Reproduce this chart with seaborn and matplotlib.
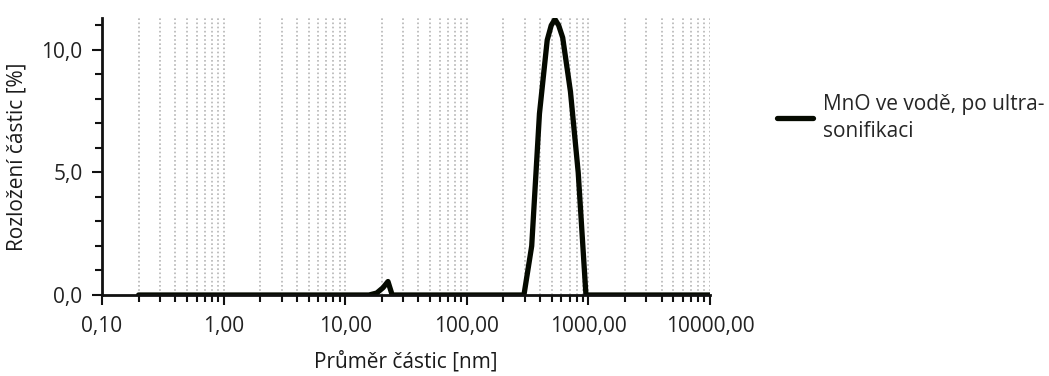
import matplotlib
matplotlib.use('Agg')
import matplotlib.pyplot as plt
from matplotlib.ticker import FixedLocator, LogLocator, NullFormatter
import seaborn as sns
import pandas as pd

# velikost částic [nm] a rozložení [%]
prumer_nm = [0.2, 15.69, 18.17, 20.5, 22.5, 24.36, 295.3, 342.0, 396.1,
             458.7, 495.0, 531.2, 570.0, 615.1, 712.4, 825.0, 955.4, 10000.0]
rozlozeni = [0.0, 0.0, 0.08, 0.3, 0.55, 0.0, 0.0, 2.0, 7.4,
             10.4, 11.0, 11.25, 11.0, 10.5, 8.3, 5.0, 0.0, 0.0]

x_ticks = [0.1, 1, 10, 100, 1000, 10000]
x_labels = ["0,10", "1,00", "10,00", "100,00", "1000,00", "10000,00"]
y_ticks = [0, 5, 10]
y_labels = ["0,0", "5,0", "10,0"]
serie = "MnO ve vodě, po ultra-\nsonifikaci"

df = pd.DataFrame({"Průměr": prumer_nm, "Rozložení": rozlozeni})

sns.set_style("ticks")
plt.rcParams['font.family'] = ['Open Sans', 'DejaVu Sans']

fig = plt.figure(figsize=(10.49, 3.76), dpi=100)
ax = fig.add_axes([0.0972, 0.2154, 0.5796, 0.7366])

sns.lineplot(data=df, x="Průměr", y="Rozložení", ax=ax, color="#050a00",
             linewidth=3.8, label=serie)
ax.lines[0].set_solid_joinstyle("round")

ax.set_xscale("log")
ax.set_xlim(0.1, 10000)
ax.set_ylim(0, 11.3)

ax.xaxis.set_major_locator(FixedLocator(x_ticks))
ax.set_xticklabels(x_labels)
ax.xaxis.set_minor_locator(LogLocator(base=10, subs=range(2, 10)))
ax.xaxis.set_minor_formatter(NullFormatter())
ax.yaxis.set_major_locator(FixedLocator(y_ticks))
ax.set_yticklabels(y_labels)
ax.yaxis.set_minor_locator(FixedLocator(range(0, 12)))

ax.grid(which="both", axis="x", color="#b5b5b5", linestyle=(0, (1, 1.5)), linewidth=1.2)
ax.set_axisbelow(True)

for s in ["top", "right"]:
    ax.spines[s].set_visible(False)
for s in ["left", "bottom"]:
    ax.spines[s].set_linewidth(2)
    ax.spines[s].set_color("#111111")

ax.tick_params(which="major", length=7, width=1.5, color="#111111",
               labelsize=15, labelcolor="#222222")
ax.tick_params(which="minor", length=5, width=1.5, color="#111111")
ax.tick_params(axis="x", which="major", pad=8)
ax.tick_params(axis="y", which="major", pad=7)

ax.set_xlabel("Průměr částic [nm]", fontsize=15, color="#1a1a1a", labelpad=10)
ax.set_ylabel("Rozložení částic [%]", fontsize=15, color="#1a1a1a", labelpad=10)

leg = ax.legend(loc="center left", bbox_to_anchor=(1.08, 0.64), frameon=False,
                fontsize=15, handlelength=1.7, handletextpad=0.5)
for t in leg.get_texts():
    t.set_linespacing(1.35)

fig.savefig("out.png", dpi=100)
